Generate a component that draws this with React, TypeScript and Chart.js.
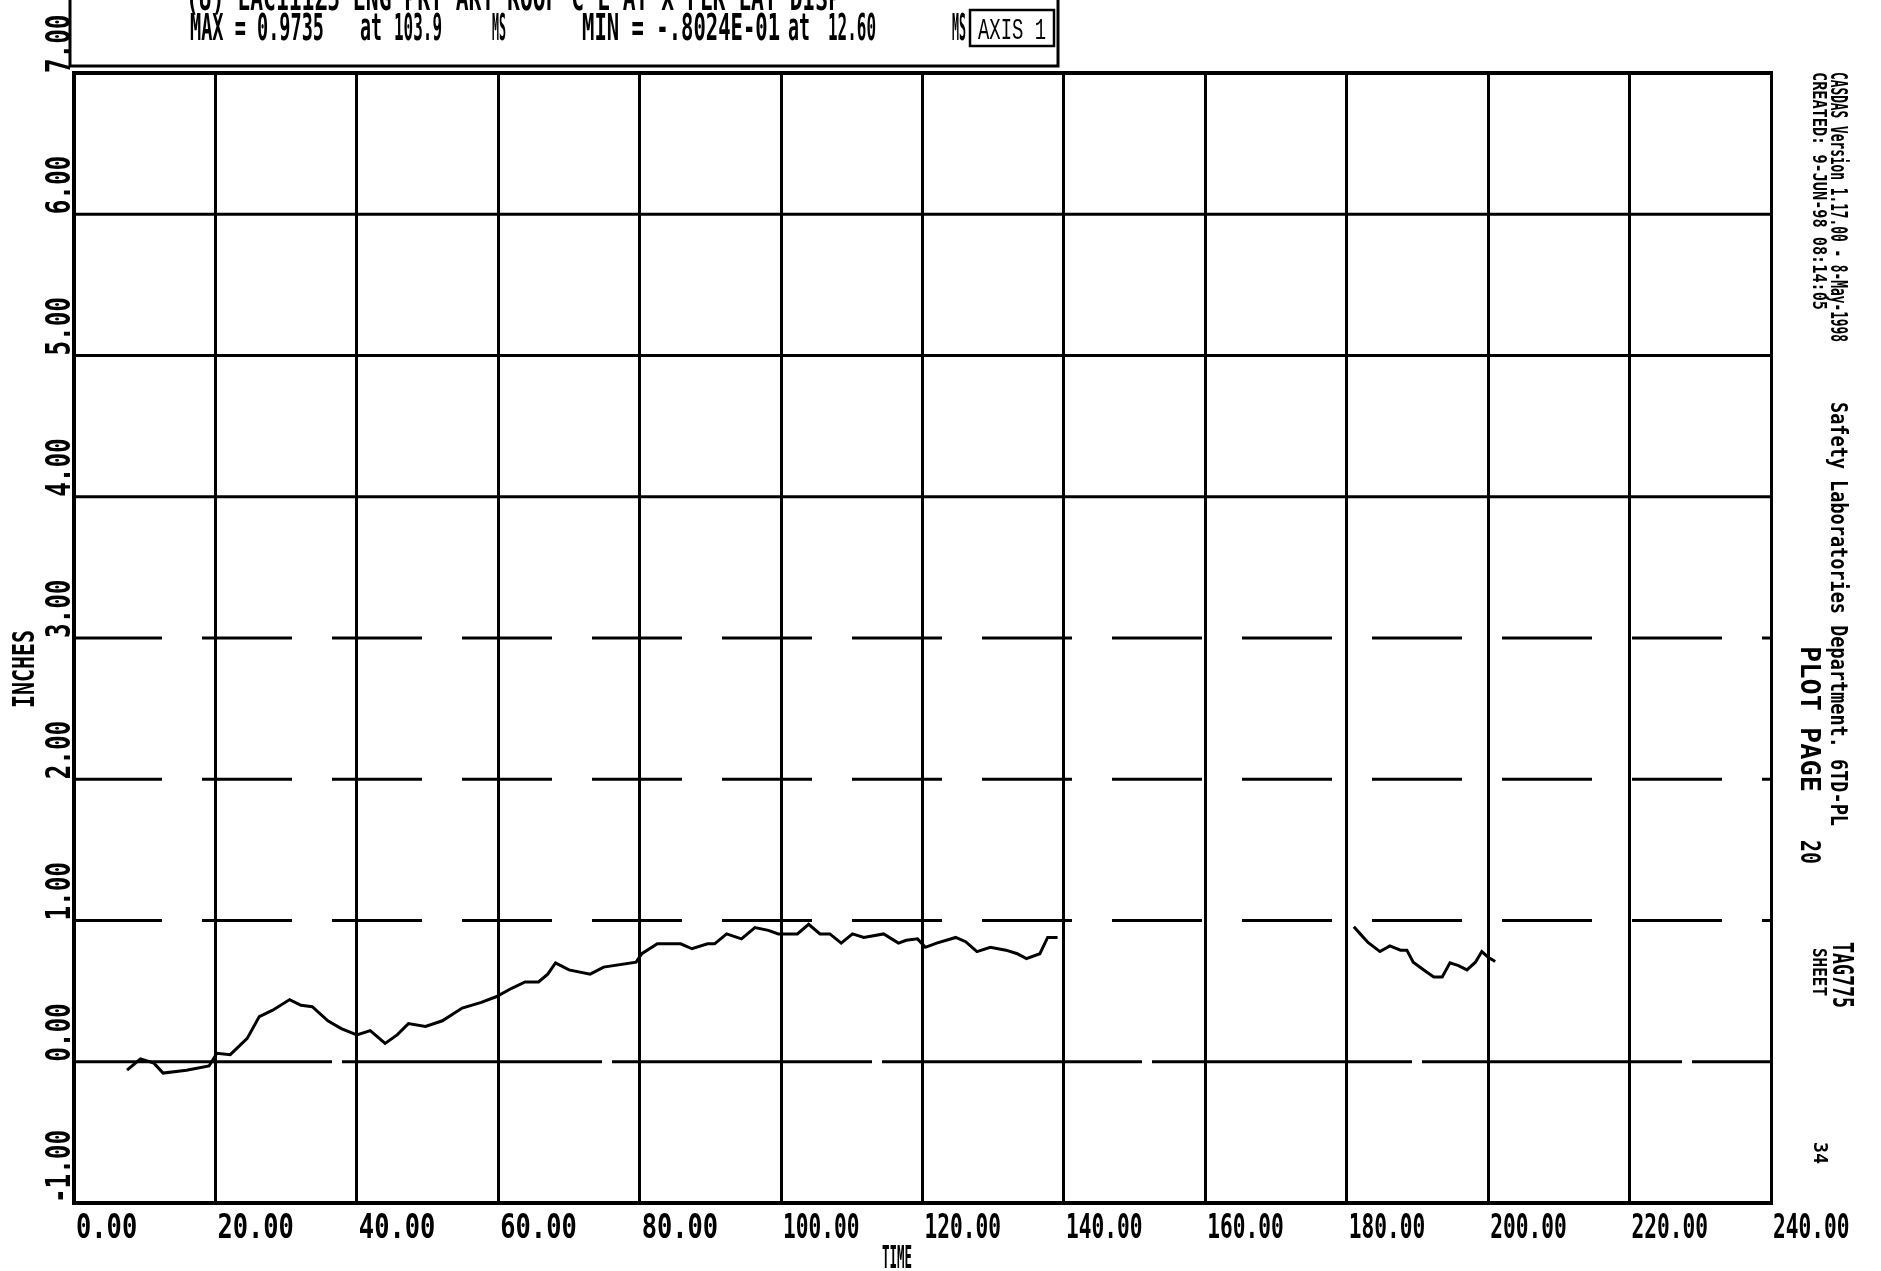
import React, { useEffect, useRef } from "react";
import { Chart, registerables } from "chart.js";

Chart.register(...registerables);

// ---- data (TIME in ms, displacement in INCHES) ----
const timeA = [7.5, 9.4, 11.3, 12.6, 15.9, 19.1, 20.2, 22.1, 24.5, 26.2, 28.1, 30.5, 32.1, 33.7, 35.9, 37.8, 40.0, 41.9, 44.0, 45.7, 47.3, 49.7, 52.1, 54.9, 57.6, 59.7, 61.9, 63.8, 65.7, 67.0, 68.1, 70.0, 73.0, 74.9, 79.5, 80.3, 82.5, 85.8, 87.4, 89.6, 90.6, 92.3, 94.4, 96.3, 98.2, 99.6, 102.3, 103.9, 105.5, 106.9, 108.5, 110.1, 111.7, 114.5, 116.6, 117.7, 119.3, 120.4, 122.0, 124.7, 126.1, 127.7, 129.6, 131.8, 133.4, 134.7, 136.6, 137.7, 139.1];
const dispA = [-0.06, 0.02, -0.01, -0.08, -0.06, -0.03, 0.06, 0.05, 0.165, 0.32, 0.365, 0.44, 0.40, 0.39, 0.29, 0.235, 0.19, 0.22, 0.13, 0.19, 0.27, 0.25, 0.29, 0.38, 0.42, 0.46, 0.52, 0.565, 0.565, 0.62, 0.70, 0.65, 0.62, 0.67, 0.705, 0.765, 0.835, 0.835, 0.80, 0.835, 0.835, 0.905, 0.87, 0.95, 0.93, 0.905, 0.905, 0.9735, 0.905, 0.905, 0.84, 0.905, 0.88, 0.905, 0.84, 0.86, 0.87, 0.81, 0.84, 0.88, 0.85, 0.78, 0.81, 0.79, 0.765, 0.73, 0.765, 0.88, 0.88];
const timeB = [181.0, 182.0, 183.0, 184.7, 186.1, 187.6, 188.5, 189.4, 190.9, 192.3, 193.5, 194.6, 195.8, 197.0, 198.2, 199.1, 200.0, 201.0];
const dispB = [0.955, 0.9, 0.845, 0.78, 0.82, 0.79, 0.79, 0.705, 0.65, 0.6, 0.6, 0.7, 0.68, 0.65, 0.705, 0.78, 0.74, 0.71];

const xTickLabels = ["0.00", "20.00", "40.00", "60.00", "80.00", "100.00", "120.00", "140.00", "160.00", "180.00", "200.00", "220.00", "240.00"];
const yTickLabels = ["-1.00", "0.00", "1.00", "2.00", "3.00", "4.00", "5.00", "6.00", "7.00"];

const titleLine = "(U) LAC111Z5 ENG PRT ART ROOF C L AT X FLR LAT DISP";
const statPieces = ["MAX = 0.9735", "at", "103.9", "MS", "MIN = -.8024E-01", "at", "12.60", "MS"];
const axisTag = "AXIS 1";
const xTitle = "TIME";
const yTitle = "INCHES";
const sideInfo = [
  "CASDAS Version 1.17.00 - 8-May-1998",
  "Safety Laboratories Department. 6TD-PL",
  "CREATED: 9-JUN-98 08:14:05",
  "PLOT PAGE",
  "20",
  "TAG775",
  "SHEET",
  "34",
];

const FONT = '"DejaVu Sans Mono", "Liberation Mono", monospace';

function txt(
  ctx: CanvasRenderingContext2D,
  s: string,
  x: number,
  y: number,
  cap: number,
  w: number,
  rot = 0,
  font = FONT,
  weight = "bold"
) {
  const size = cap / 0.73;
  ctx.save();
  ctx.translate(x, y);
  if (rot) ctx.rotate(rot);
  ctx.font = `${weight} ${size}px ${font}`;
  ctx.textAlign = "left";
  ctx.textBaseline = "alphabetic";
  ctx.fillStyle = "#000";
  const m = ctx.measureText(s).width;
  ctx.scale(w / m, 1);
  ctx.fillText(s, 0, 0);
  ctx.restore();
}

function hStyle(v: number): { w: number; dash: number[] } {
  if (v === -1) return { w: 4, dash: [] };
  if (v === 0) return { w: 3, dash: [260, 10] };
  if (v >= 1 && v <= 3) return { w: 3, dash: [90, 40] };
  if (v === 7) return { w: 4, dash: [] };
  return { w: 3, dash: [] };
}

export default function App() {
  const ref = useRef<HTMLCanvasElement>(null);

  useEffect(() => {
    const canvas = ref.current;
    if (!canvas) return;

    const plotter = {
      id: "plotter",
      beforeDatasetsDraw(chart: any) {
        const ctx = chart.ctx as CanvasRenderingContext2D;
        const { left, right } = chart.chartArea;
        const ys = chart.scales.y;
        ctx.save();
        ctx.strokeStyle = "#000";
        ys.ticks.forEach((t: any) => {
          const py = ys.getPixelForValue(t.value);
          const st = hStyle(t.value);
          ctx.lineWidth = st.w;
          ctx.setLineDash(st.dash);
          ctx.beginPath();
          ctx.moveTo(left - 2, py);
          ctx.lineTo(right + 2, py);
          ctx.stroke();
        });
        ctx.restore();
      },
      afterDraw(chart: any) {
        const ctx = chart.ctx as CanvasRenderingContext2D;
        const xs = chart.scales.x;
        const ys = chart.scales.y;
        const up = -Math.PI / 2;
        const down = Math.PI / 2;

        // x tick labels
        xs.ticks.forEach((t: any, i: number) => {
          const s = xTickLabels[i] ?? t.value.toFixed(2);
          txt(ctx, s, xs.getPixelForValue(t.value) + 2, 1238, 25, 15.3 * Math.min(s.length, 5));
        });
        // y tick labels (rotated, reading upward, starting at the grid line)
        ys.ticks.forEach((t: any, i: number) => {
          const s = yTickLabels[i] ?? t.value.toFixed(2);
          txt(ctx, s, 70, ys.getPixelForValue(t.value), 24, 14.6 * s.length, up);
        });
        // axis titles
        txt(ctx, xTitle, 882, 1268, 23, 30);
        txt(ctx, yTitle, 34, 708, 22, 78, up);

        // header box
        ctx.save();
        ctx.strokeStyle = "#000";
        ctx.lineWidth = 3;
        ctx.strokeRect(70, -10, 988, 76);
        ctx.lineWidth = 2.5;
        ctx.strokeRect(970, 10, 84, 36);
        ctx.restore();
        txt(ctx, titleLine, 186, 10, 26, 655);
        const px = [190, 360, 394, 492, 582, 788, 828, 952];
        const pw = [134, 22, 48, 14, 198, 22, 48, 14];
        statPieces.forEach((s, i) => txt(ctx, s, px[i], 40, 27, pw[i]));
        txt(ctx, axisTag, 978, 39, 21, 68, 0, '"Liberation Mono", "DejaVu Sans Mono", monospace', "normal");

        // right-hand side information (rotated, reading downward)
        txt(ctx, sideInfo[0], 1831, 72, 17, 270, down);
        txt(ctx, sideInfo[1], 1831, 402, 17, 424, down);
        txt(ctx, sideInfo[2], 1813, 72, 14, 238, down);
        txt(ctx, sideInfo[3], 1801, 646, 20, 146, down);
        txt(ctx, sideInfo[4], 1801, 840, 20, 24, down);
        txt(ctx, sideInfo[5], 1833, 942, 21, 66, down);
        txt(ctx, sideInfo[6], 1813, 948, 14, 48, down);
        txt(ctx, sideInfo[7], 1814, 1142, 14, 22, down);
      },
    };

    const chart = new Chart(canvas, {
      type: "line",
      data: {
        datasets: [
          {
            data: timeA.map((x, i) => ({ x, y: dispA[i] })),
            borderColor: "#000",
            borderWidth: 3,
            pointRadius: 0,
            tension: 0,
            fill: false,
          },
          {
            data: timeB.map((x, i) => ({ x, y: dispB[i] })),
            borderColor: "#000",
            borderWidth: 3,
            pointRadius: 0,
            tension: 0,
            fill: false,
          },
        ],
      },
      options: {
        responsive: false,
        devicePixelRatio: 1,
        animation: false,
        layout: { padding: { left: 74, top: 73, right: 110, bottom: 68 } },
        plugins: { legend: { display: false }, tooltip: { enabled: false }, title: { display: false } },
        scales: {
          x: {
            type: "linear",
            min: 0,
            max: 240,
            ticks: { stepSize: 20, display: false },
            grid: { color: "#000", lineWidth: 3, drawTicks: false },
            border: { display: true, color: "#000", width: 4 },
            afterFit: (s: any) => {
              s.height = 0;
            },
          },
          y: {
            type: "linear",
            min: -1,
            max: 7,
            ticks: { stepSize: 1, display: false },
            grid: { display: false, drawTicks: false },
            border: { display: true, color: "#000", width: 4 },
            afterFit: (s: any) => {
              s.width = 0;
            },
          },
        },
      },
      plugins: [plotter],
    } as any);

    return () => chart.destroy();
  }, []);

  return (
    <div style={{ position: "fixed", left: 0, top: 0, width: 1881, height: 1271, background: "#fff" }}>
      <canvas ref={ref} width={1881} height={1271} style={{ width: 1881, height: 1271, display: "block" }} />
    </div>
  );
}
